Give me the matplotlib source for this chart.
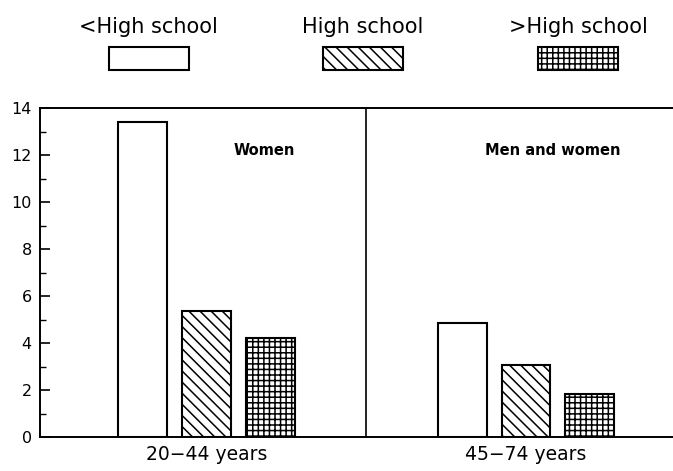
import numpy as np
import matplotlib
matplotlib.use("Agg")
import matplotlib.pyplot as plt
from matplotlib.patches import Rectangle

# data
groups = ["20\u221244 years", "45\u221274 years"]
series = ["<High school", "High school", ">High school"]
less_hs = [13.4, 4.85]
hs = [5.35, 3.05]
more_hs = [4.2, 1.85]
panel_labels = ["Women", "Men and women"]

hatches = ["", "\\\\\\", "+++"]
values = [less_hs, hs, more_hs]

plt.rcParams["font.family"] = ["DejaVu Sans"]
plt.rcParams["hatch.linewidth"] = 1.1

W, H = 673, 471
fig = plt.figure(figsize=(W / 100, H / 100), dpi=100)
ax = fig.add_axes([40 / W, 1 - 437 / H, 1 - 40 / W, (437 - 108) / H])

x = np.arange(len(groups))
offset = 0.2
width = 0.153
for k, (vals, h) in enumerate(zip(values, hatches)):
    ax.bar(x + (k - 1) * offset, vals, width, facecolor="white",
           edgecolor="black", linewidth=1.5, hatch=h)

# divider between the two panels
ax.axvline(0.5, color="black", linewidth=1.2)

ax.set_xlim(-0.521, 1.46)
ax.set_ylim(0, 14)
ax.set_yticks(np.arange(0, 15, 2))
ax.set_yticks(np.arange(1, 14, 2), minor=True)
ax.tick_params(axis="y", which="major", direction="in", length=7, width=1.2,
               labelsize=11.5, pad=6)
ax.tick_params(axis="y", which="minor", direction="in", length=4, width=1)
ax.set_xticks(x)
ax.set_xticklabels(groups, fontsize=13.5)
ax.tick_params(axis="x", length=0, pad=6)

ax.spines["right"].set_visible(False)
for s in ["left", "top", "bottom"]:
    ax.spines[s].set_linewidth(1.4)

ax.text(0.18, 12.2, panel_labels[0], ha="center", va="center",
        fontsize=10.5, fontweight="semibold")
ax.text(1.083, 12.2, panel_labels[1], ha="center", va="center",
        fontsize=10.5, fontweight="semibold")

# legend drawn above the axes, in figure coordinates
leg_x = [148.5, 363, 578]
for lx, name, h in zip(leg_x, series, hatches):
    fig.text(lx / W, 1 - 33 / H, name, ha="center", va="baseline", fontsize=15)
    fig.add_artist(Rectangle(((lx - 40) / W, 1 - 70 / H), 80 / W, 23 / H,
                             transform=fig.transFigure, facecolor="white",
                             edgecolor="black", linewidth=1.5, hatch=h))

fig.savefig("out.png", dpi=100)
